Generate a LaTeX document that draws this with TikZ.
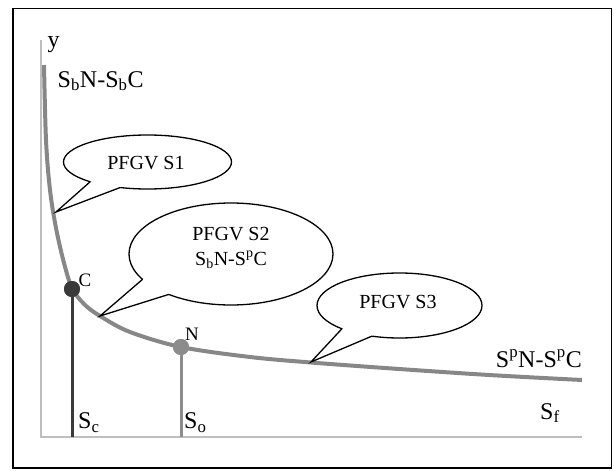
\documentclass[tikz,border=0pt]{standalone}
\usepackage{fontspec}
\setmainfont{Liberation Serif}
\usetikzlibrary{shapes.geometric}
\definecolor{axisgray}{RGB}{190,190,190}
\definecolor{curvegray}{RGB}{135,135,135}
\definecolor{cdark}{RGB}{58,58,58}
\definecolor{ngray}{RGB}{140,140,140}
\begin{document}
\begin{tikzpicture}[x=1pt,y=-1pt,
  bubble/.style={ellipse, draw=black, line width=1.3pt, fill=white, inner sep=0pt, outer sep=0pt},
  btext/.style={font=\fontsize{20}{25}\selectfont, inner sep=0pt},
  lbl/.style={font=\fontsize{24}{28}\selectfont, inner sep=0pt},
  ptlbl/.style={font=\fontsize{19}{22}\selectfont, inner sep=0pt},
  axisline/.style={draw=axisgray, line width=2pt},
  curveline/.style={draw=curvegray, line width=4pt},
  pointer/.style={draw=black, line width=1.3pt, line cap=round, line join=miter},
  dot/.style={circle, inner sep=0pt, outer sep=0pt, minimum size=16pt}
]
\useasboundingbox (0,0) rectangle (614,471);
% frame
\draw[line width=1.5pt] (13,8.5) rectangle (611.5,468);
% axes
\coordinate (O) at (41,437);
\coordinate (ytop) at (41,40);
\coordinate (xend) at (582,437);
\draw[axisline] (ytop) -- (O) -- (xend);
% curve
\draw[curveline] plot[smooth, tension=0.55] coordinates {
 (44,65) (46,140) (50,190) (56,228) (64,263) (72,288) (84,304) (100,316)
 (130,332) (181,347) (250,357) (311,362.5) (392,368.5) (489,375) (582,380)};
% drop lines and points
\coordinate (Cb) at (72,437);
\coordinate (Nb) at (181,437);
\node[dot, fill=cdark] (C) at (72,289) {};
\node[dot, fill=ngray] (N) at (181,347) {};
\draw[draw=cdark, line width=3pt] (C.center) -- (Cb);
\draw[draw=ngray, line width=3pt] (N.center) -- (Nb);
\node[dot, fill=cdark] at (C) {};
\node[dot, fill=ngray] at (N) {};
% bubble S1
\node[bubble, minimum width=168pt, minimum height=54pt] (s1) at (147.5,162) {};
\coordinate (t1) at (56,212);
\fill[white] (s1.center) -- (s1.199.8) -- (t1) -- (s1.223.4) -- cycle;
\draw[pointer] (s1.199.8) -- (t1) -- (s1.223.4);
\node[btext] (s1t) at (146,163) {PFGV S1};
% bubble S2
\node[bubble, minimum width=204pt, minimum height=102pt] (s2) at (231,254) {};
\coordinate (t2) at (100,316);
\fill[white] (s2.center) -- (s2.196.1) -- (t2) -- (s2.213.7) -- cycle;
\draw[pointer] (s2.196.1) -- (t2) -- (s2.213.7);
\node[btext] (s2a) at (231,234.5) {PFGV S2};
\node[btext, anchor=base] (s2b) at (231,265.5) {S\textsubscript{b}N-S\textsuperscript{p}C};
% bubble S3
\node[bubble, minimum width=165pt, minimum height=65pt] (s3) at (399.5,305.5) {};
\coordinate (t3) at (311,362);
\fill[white] (s3.center) -- (s3.202.6) -- (t3) -- (s3.228) -- cycle;
\draw[pointer] (s3.202.6) -- (t3) -- (s3.228);
\node[btext] (s3t) at (398,302) {PFGV S3};
% labels
\node[lbl, anchor=base west] (ylab) at (47.5,47.5) {y};
\node[lbl, anchor=base west] (sbn) at (57.5,87) {S\textsubscript{b}N-S\textsubscript{b}C};
\node[lbl, anchor=base east] (spn) at (582,367) {S\textsuperscript{p}N-S\textsuperscript{p}C};
\node[lbl, anchor=base west] (sf) at (540,419) {S\textsubscript{f}};
\node[lbl, anchor=base west] (sc) at (78,428.5) {S\textsubscript{c}};
\node[lbl, anchor=base west] (so) at (184,428.5) {S\textsubscript{o}};
\node[ptlbl, anchor=base west] (Clab) at (78.5,286) {C};
\node[ptlbl, anchor=base west] (Nlab) at (185,340) {N};
\end{tikzpicture}
\end{document}
